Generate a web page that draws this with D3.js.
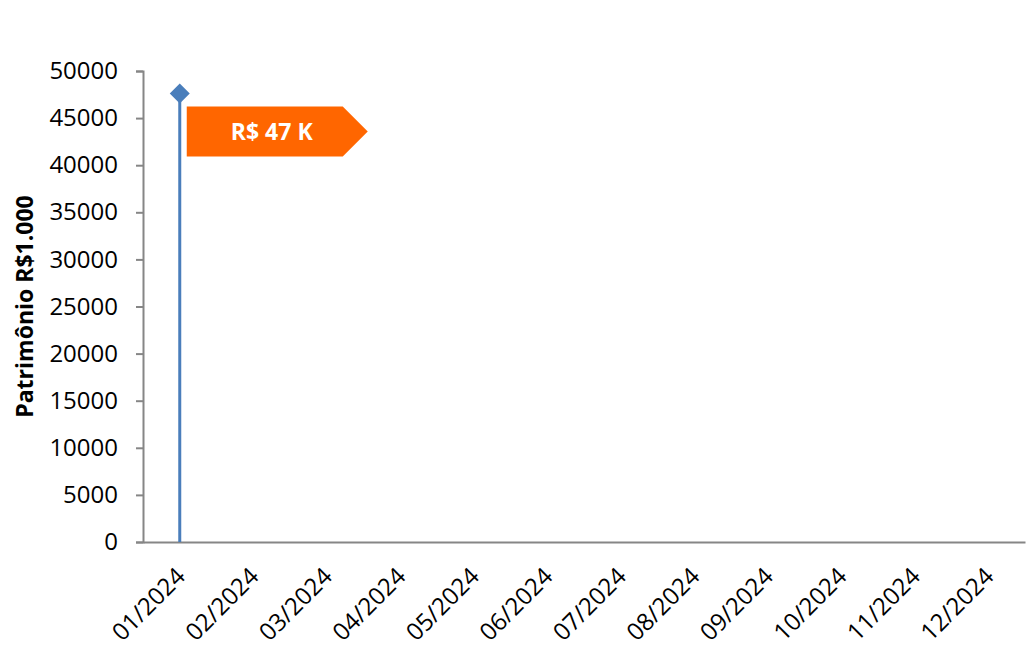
<!DOCTYPE html>
<html><head><meta charset="utf-8">
<script src="https://cdn.jsdelivr.net/npm/d3@7"></script>
<style>body{margin:0;background:#fff;} svg{display:block;}</style>
</head><body>
<svg id="c" width="1026" height="651"></svg>
<script>
const categories = ["01/2024","02/2024","03/2024","04/2024","05/2024","06/2024","07/2024","08/2024","09/2024","10/2024","11/2024","12/2024"];
const seriesMonths = ["01/2024"];
const seriesValues = [47600];
const calloutLabels = ["R$ 47 K"];
const yTicks = [0,5000,10000,15000,20000,25000,30000,35000,40000,45000,50000];
const yTitle = "Patrimônio R$1.000";

(function(){
const svg = d3.select("#c");
const FONT = "'Open Sans', Lato, sans-serif";
const pL = 143, pR = 1025, pT = 71, pB = 542;
const x = d3.scaleBand().domain(categories).range([pL, pR]);
const y = d3.scaleLinear().domain([0, 50000]).range([pB, pT]);
const axisColor = "#868686";

// Y axis
const yAxis = svg.append("g").attr("transform", `translate(${pL},0)`)
  .call(d3.axisLeft(y).tickValues(yTicks).tickSize(7).tickPadding(18).tickFormat(d3.format("d")));
yAxis.select(".domain").attr("stroke", axisColor).attr("stroke-width", 2);
yAxis.selectAll(".tick line").attr("stroke", axisColor).attr("stroke-width", 2);
yAxis.selectAll("text").attr("font-family", FONT).attr("font-size", 24).attr("fill", "#000");

// X axis
const xAxis = svg.append("g").attr("transform", `translate(0,${pB})`)
  .call(d3.axisBottom(x).tickSize(0).tickSizeOuter(0).tickPadding(0));
xAxis.select(".domain").attr("stroke", axisColor).attr("stroke-width", 2);
xAxis.selectAll(".tick text")
  .attr("font-family", FONT).attr("font-size", 24).attr("fill", "#000")
  .attr("text-anchor", "end")
  .attr("transform", "translate(-5,24) rotate(-45)")
  .attr("dy", "0.7em").attr("y", 0);

// Y title
svg.append("text")
  .attr("transform", `translate(33,${(pT+pB)/2}) rotate(-90)`)
  .attr("text-anchor", "middle")
  .attr("font-family", FONT).attr("font-weight", "bold").attr("font-size", 23)
  .text(yTitle);

// Series
const data = seriesMonths.map((m, i) => ({m, v: seriesValues[i], label: calloutLabels[i]}));
const cx = d => x(d.m) + x.bandwidth() / 2;

svg.selectAll(".drop").data(data).enter().append("line")
  .attr("x1", cx).attr("x2", cx)
  .attr("y1", d => y(d.v)).attr("y2", y(0))
  .attr("stroke", "#4A7EBB").attr("stroke-width", 3);

svg.selectAll(".pt").data(data).enter().append("path")
  .attr("d", "M0,-10 L10,0 L0,10 L-10,0 Z")
  .attr("transform", d => `translate(${cx(d)},${y(d.v)})`)
  .attr("fill", "#4A7EBB");

// Callout
const co = svg.selectAll(".co").data(data).enter().append("g")
  .attr("transform", d => `translate(${cx(d) + 7},${y(d.v) + 13})`);
co.append("path")
  .attr("d", "M0,0 L156,0 L181,25 L156,50 L0,50 Z")
  .attr("fill", "#FF6600");
co.append("text")
  .attr("x", 85).attr("y", 25).attr("dy", "0.36em")
  .attr("text-anchor", "middle")
  .attr("font-family", FONT).attr("font-weight", "bold").attr("font-size", 23)
  .attr("fill", "#fff")
  .text(d => d.label);
})();
</script>
</body></html>
